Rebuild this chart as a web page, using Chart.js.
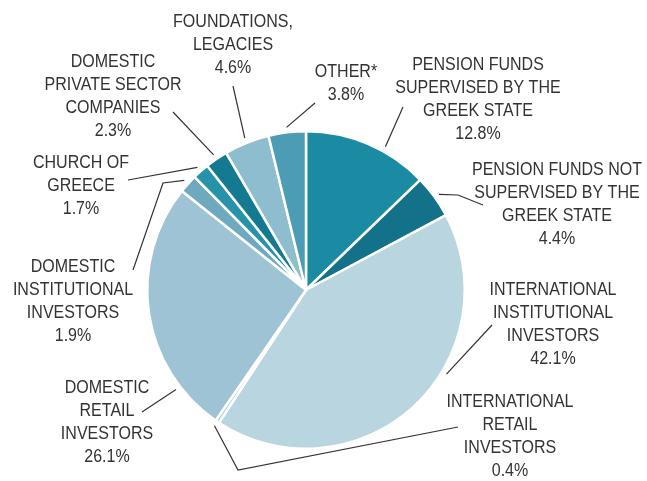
<!DOCTYPE html>
<html>
<head>
<meta charset="utf-8">
<script src="https://cdn.jsdelivr.net/npm/chart.js@4"></script>
<style>
  html, body { margin: 0; padding: 0; background: #ffffff; }
  #wrap { width: 647px; height: 481px; position: relative; }
</style>
</head>
<body>
<div id="wrap"><canvas id="pie"></canvas></div>
<script>
// Shareholder structure, clockwise from 12 o'clock
const categories = [
  'Pension funds supervised by the Greek state',
  'Pension funds not supervised by the Greek state',
  'International institutional investors',
  'International retail investors',
  'Domestic retail investors',
  'Domestic institutional investors',
  'Church of Greece',
  'Domestic private sector companies',
  'Foundations, legacies',
  'Other*'
];
const shares = [12.8, 4.4, 42.1, 0.4, 26.1, 1.9, 1.7, 2.3, 4.6, 3.8];
const labelLines = [
  ['PENSION FUNDS', 'SUPERVISED BY THE', 'GREEK STATE'],
  ['PENSION FUNDS NOT', 'SUPERVISED BY THE', 'GREEK STATE'],
  ['INTERNATIONAL', 'INSTITUTIONAL', 'INVESTORS'],
  ['INTERNATIONAL', 'RETAIL', 'INVESTORS'],
  ['DOMESTIC', 'RETAIL', 'INVESTORS'],
  ['DOMESTIC', 'INSTITUTIONAL', 'INVESTORS'],
  ['CHURCH OF', 'GREECE'],
  ['DOMESTIC', 'PRIVATE SECTOR', 'COMPANIES'],
  ['FOUNDATIONS,', 'LEGACIES'],
  ['OTHER*']
];
const sliceColors = [
  '#1b8ba3', '#14718a', '#b8d5e0', '#a9cad8', '#9dc3d5',
  '#6ea9bf', '#2793ab', '#137a92', '#8ebdd0', '#4b9cb4'
];

// Label placement: text block centre (x, first line y), where the leader
// leaves the slice (fraction of its sweep) and the bends of the leader.
const labelLayout = [
  { x: 478, y: 65,  at: 0.63, path: [[403, 107]] },
  { x: 557, y: 170, at: 0.52, path: [[458, 195], [483, 205]] },
  { x: 553, y: 290, at: 0.39, path: [[492, 325]] },
  { x: 510, y: 402, at: 0.5,  path: [[238, 470], [458, 427]] },
  { x: 107, y: 388, at: 0.19, path: [[142, 412]] },
  { x: 73,  y: 267, at: 0.5,  path: [[163, 183], [133, 270]] },
  { x: 81,  y: 163, at: 0.5,  path: [[128, 180]] },
  { x: 113, y: 62,  at: 0.5,  path: [[173, 112]] },
  { x: 233, y: 22,  at: 0.5,  path: [[233, 86]] },
  { x: 346, y: 72,  at: 0.5,  path: [[315, 103]] }
];
const LINE_H = 23;
const NARROW = 0.89; // squeeze Liberation Sans to a narrower face

const calloutLabels = {
  id: 'calloutLabels',
  afterDraw(chart) {
    const ctx = chart.ctx;
    const arcs = chart.getDatasetMeta(0).data;
    ctx.save();
    ctx.strokeStyle = '#333333';
    ctx.lineWidth = 1.2;
    ctx.fillStyle = '#333333';
    ctx.font = '18px "Liberation Sans", Arial, sans-serif';
    ctx.textAlign = 'center';
    ctx.textBaseline = 'middle';
    arcs.forEach((arc, i) => {
      const lay = labelLayout[i];
      const p = arc.getProps(['x', 'y', 'startAngle', 'endAngle', 'outerRadius'], true);
      const a = p.startAngle + (p.endAngle - p.startAngle) * lay.at;
      const r = p.outerRadius + 5;
      ctx.beginPath();
      ctx.moveTo(p.x + Math.cos(a) * r, p.y + Math.sin(a) * r);
      lay.path.forEach(pt => ctx.lineTo(pt[0], pt[1]));
      ctx.stroke();
      const lines = labelLines[i].concat([shares[i].toFixed(1) + '%']);
      lines.forEach((t, k) => {
        ctx.save();
        ctx.translate(lay.x, lay.y + k * LINE_H);
        ctx.scale(NARROW, 1);
        ctx.fillText(t, 0, 0);
        ctx.restore();
      });
    });
    ctx.restore();
  }
};

new Chart(document.getElementById('pie'), {
  type: 'pie',
  data: {
    labels: categories,
    datasets: [{
      data: shares,
      backgroundColor: sliceColors,
      borderColor: '#ffffff',
      borderWidth: 2.5
    }]
  },
  options: {
    responsive: true,
    maintainAspectRatio: false,
    animation: false,
    layout: { padding: { left: 146, top: 130, right: 181, bottom: 31 } },
    plugins: {
      legend: { display: false },
      tooltip: { enabled: false }
    }
  },
  plugins: [calloutLabels]
});
</script>
</body>
</html>
